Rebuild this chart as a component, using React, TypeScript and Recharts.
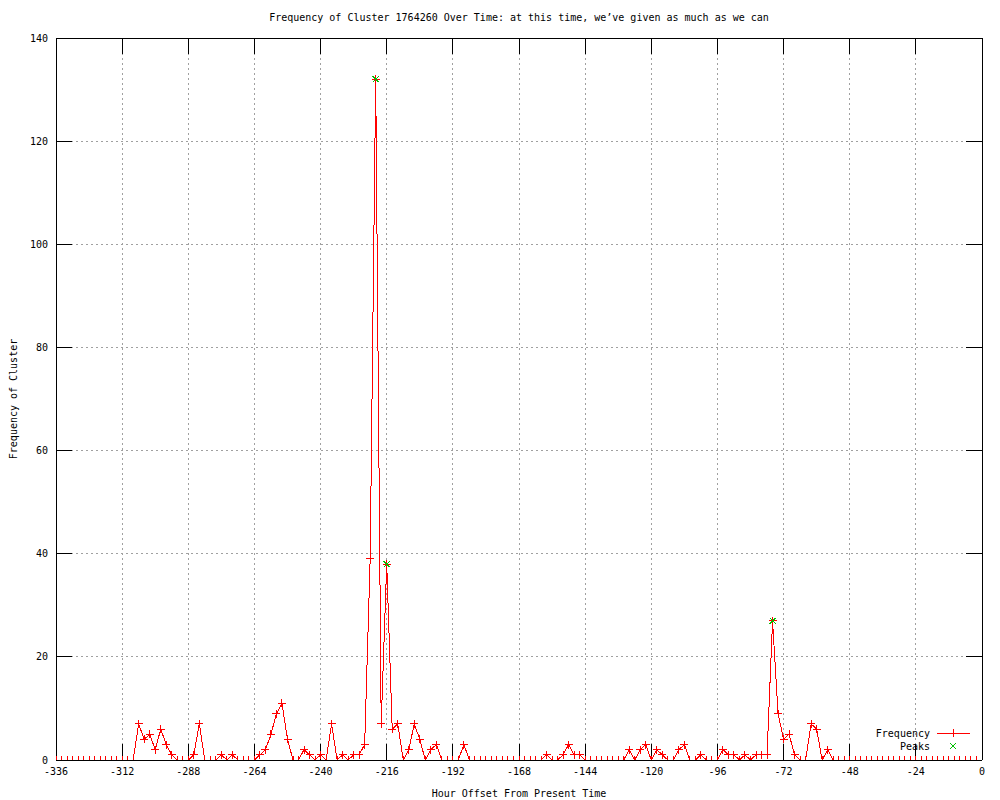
import React from 'react';
import { ComposedChart, Line, Scatter, XAxis, YAxis, CartesianGrid } from 'recharts';

const FONT = '"DejaVu Sans Mono", "Liberation Mono", monospace';

// Hour offsets start at -336 and advance in 2-hour steps up to 0
const START_HOUR = -336;
const HOUR_STEP = 2;

// Frequency values, one per 2-hour bucket from -336 to 0
const frequency: number[] = [
  // -336 .. -308
  0, 0, 0, 0, 0, 0, 0, 0, 0, 0, 0, 0, 0, 0, 0,
  // -306 .. -292
  7, 4, 5, 2, 6, 3, 1, 0,
  // -290 .. -264
  0, 0, 1, 7, 0, 0, 0, 1, 0, 1, 0, 0, 0, 0,
  // -262 .. -250
  1, 2, 5, 9, 11, 4, 0,
  // -248 .. -226
  0, 2, 1, 0, 1, 0, 7, 0, 1, 0, 1, 1,
  // -224 .. -198
  3, 39, 132, 7, 38, 6, 7, 0, 2, 7, 4, 0, 2, 3,
  // -196 .. -160
  0, 0, 0, 0, 3, 0, 0, 0, 0, 0, 0, 0, 0, 0, 0, 0, 0, 0, 0,
  // -158 .. -130
  1, 0, 0, 1, 3, 1, 1, 0, 0, 0, 0, 0, 0, 0, 0,
  // -128 .. -100
  2, 0, 2, 3, 0, 2, 1, 0, 0, 2, 3, 0, 0, 1, 0,
  // -98 .. -66
  0, 0, 2, 1, 1, 0, 1, 0, 1, 1, 1, 27, 9, 4, 5, 1, 0,
  // -64 .. -56
  0, 7, 6, 0, 2,
  // -54 .. 0
  0, 0, 0, 0, 0, 0, 0, 0, 0, 0, 0, 0, 0, 0, 0, 0, 0, 0, 0, 0, 0, 0, 0, 0, 0, 0, 0, 0,
];

const hours: number[] = frequency.map((_, i) => START_HOUR + i * HOUR_STEP);

const peakHours: number[] = [-220, -216, -76];
const peakValues: number[] = [132, 38, 27];

const xTicks: number[] = [-336, -312, -288, -264, -240, -216, -192, -168, -144, -120, -96, -72, -48, -24, 0];
const yTicks: number[] = [0, 20, 40, 60, 80, 100, 120, 140];

const data = hours.map((h, i) => ({ h, f: frequency[i] }));
const peaks = peakHours.map((h, i) => ({ h, p: peakValues[i] }));

const RED = '#ff0000';
const GREEN = '#00c000';

const PlusDot = (props: any) => {
  const { cx, cy, index } = props;
  if (cx == null || cy == null) return null;
  return (
    <g key={`plus-${index}`}>
      <line x1={cx - 4} x2={cx + 4} y1={cy} y2={cy} stroke={RED} strokeWidth={1} />
      <line x1={cx} x2={cx} y1={cy - 4} y2={cy + 4} stroke={RED} strokeWidth={1} />
    </g>
  );
};

const XMark = (props: any) => {
  const { cx, cy } = props;
  if (cx == null || cy == null) return null;
  return (
    <g stroke={GREEN} strokeWidth={1}>
      <line x1={cx - 3} y1={cy - 3} x2={cx + 3} y2={cy + 3} />
      <line x1={cx - 3} y1={cy + 3} x2={cx + 3} y2={cy - 3} />
    </g>
  );
};

const tickStyle = { fill: '#000', fontSize: 10, fontFamily: FONT };
const emptyLabel = () => '';

export default function App() {
  return (
    <div style={{ position: 'absolute', left: 0, top: 0, width: 1000, height: 800, background: '#fff', shapeRendering: 'crispEdges' as any }}>
      <div
        style={{
          position: 'absolute',
          top: 12,
          left: 56,
          width: 926,
          textAlign: 'center',
          fontFamily: FONT,
          fontSize: 10,
          lineHeight: '12px',
          color: '#000',
          whiteSpace: 'nowrap',
        }}
      >
        Frequency of Cluster 1764260 Over Time: at this time, we’ve given as much as we can
      </div>
      <ComposedChart
        width={1000}
        height={800}
        data={data}
        margin={{ top: 8, right: 8, bottom: 0, left: 0 }}
      >
        <CartesianGrid xAxisId="b" yAxisId="l" stroke="#a0a0a0" strokeDasharray="2 3" />
        <XAxis
          xAxisId="b"
          dataKey="h"
          type="number"
          domain={[-336, 0]}
          ticks={xTicks}
          interval={0}
          allowDataOverflow
          height={40}
          tickSize={-16}
          tickMargin={24}
          axisLine={{ stroke: '#000' }}
          tickLine={{ stroke: '#000' }}
          tick={tickStyle}
          label={{ value: 'Hour Offset From Present Time', position: 'insideBottom', offset: 3, fill: '#000', fontSize: 10, fontFamily: FONT }}
        />
        <XAxis
          xAxisId="t"
          orientation="top"
          dataKey="h"
          type="number"
          domain={[-336, 0]}
          ticks={xTicks}
          interval={0}
          allowDataOverflow
          height={30}
          tickSize={-16}
          axisLine={{ stroke: '#000' }}
          tickLine={{ stroke: '#000' }}
          tick={tickStyle}
          tickFormatter={emptyLabel}
        />
        <YAxis
          yAxisId="l"
          type="number"
          domain={[0, 140]}
          ticks={yTicks}
          interval={0}
          allowDataOverflow
          width={56}
          tickSize={-16}
          tickMargin={24}
          axisLine={{ stroke: '#000' }}
          tickLine={{ stroke: '#000' }}
          tick={tickStyle}
          label={{
            value: 'Frequency of Cluster',
            angle: -90,
            position: 'insideLeft',
            offset: 13,
            style: { textAnchor: 'middle' },
            fill: '#000',
            fontSize: 10,
            fontFamily: FONT,
          }}
        />
        <YAxis
          yAxisId="r"
          orientation="right"
          type="number"
          domain={[0, 140]}
          ticks={yTicks}
          interval={0}
          allowDataOverflow
          width={10}
          tickSize={-16}
          axisLine={{ stroke: '#000' }}
          tickLine={{ stroke: '#000' }}
          tick={tickStyle}
          tickFormatter={emptyLabel}
        />
        <Line
          xAxisId="b"
          yAxisId="l"
          type="linear"
          dataKey="f"
          stroke={RED}
          strokeWidth={1}
          dot={PlusDot}
          activeDot={false}
          isAnimationActive={false}
        />
        <Scatter
          xAxisId="b"
          yAxisId="l"
          data={peaks}
          dataKey="p"
          shape={XMark}
          isAnimationActive={false}
        />
      </ComposedChart>
      <svg
        width={1000}
        height={800}
        style={{ position: 'absolute', left: 0, top: 0, pointerEvents: 'none' }}
      >
        <text x={930} y={733} textAnchor="end" dominantBaseline="central" fontFamily={FONT} fontSize={10} fill="#000">
          Frequency
        </text>
        <line x1={937} x2={970} y1={733} y2={733} stroke={RED} />
        <line x1={953} x2={953} y1={729} y2={737} stroke={RED} />
        <text x={930} y={746} textAnchor="end" dominantBaseline="central" fontFamily={FONT} fontSize={10} fill="#000">
          Peaks
        </text>
        <g stroke={GREEN}>
          <line x1={950} y1={743} x2={956} y2={749} />
          <line x1={950} y1={749} x2={956} y2={743} />
        </g>
      </svg>
    </div>
  );
}
